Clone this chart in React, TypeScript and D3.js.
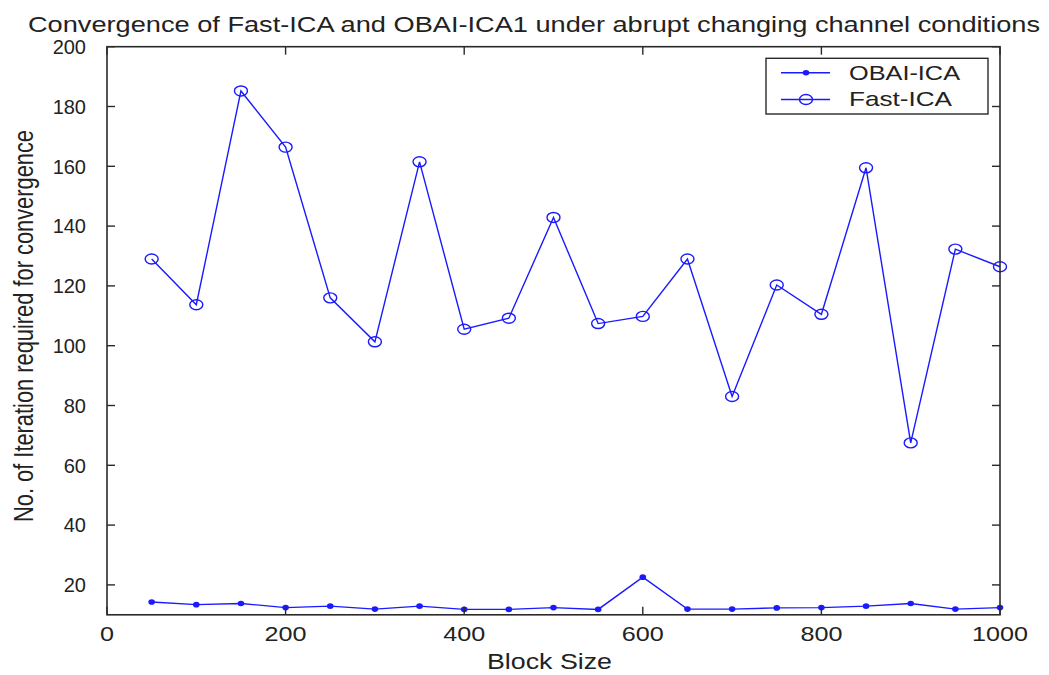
import React from "react";
import * as d3 from "d3";

// Block sizes on the x axis
const blockSizes = [50, 100, 150, 200, 250, 300, 350, 400, 450, 500, 550, 600, 650, 700, 750, 800, 850, 900, 950, 1000];

// Iterations needed before convergence
const obaiIca = [14.3, 13.4, 13.8, 12.4, 12.9, 11.9, 12.9, 11.8, 11.8, 12.4, 11.8, 22.6, 11.9, 11.9, 12.3, 12.4, 12.9, 13.8, 11.9, 12.4];
const fastIca = [129, 113.7, 185.2, 166.4, 116, 101.3, 161.5, 105.5, 109.2, 142.9, 107.4, 109.8, 129, 83, 120.3, 110.5, 159.5, 67.5, 132.3, 126.4];

const xTicks = [0, 200, 400, 600, 800, 1000];
const yTicks = [20, 40, 60, 80, 100, 120, 140, 160, 180, 200];

const seriesNames = ["OBAI-ICA", "Fast-ICA"];
const titleText = "Convergence of Fast-ICA and OBAI-ICA1 under abrupt changing channel conditions";
const xLabel = "Block Size";
const yLabel = "No. of Iteration required for convergence";

const W = 1049;
const H = 675;
const left = 107;
const right = 1000;
const top = 46.7;
const bottom = 614.8;
const blue = "#1a1aff";
const axisColor = "#2a2a2a";
const font = "'Liberation Sans', Arial, sans-serif";

export default function App() {
  const x = d3.scaleLinear().domain([0, 1000]).range([left, right]);
  const y = d3.scaleLinear().domain([10, 200]).range([bottom, top]);

  const line = d3
    .line<number>()
    .x((_, i) => x(blockSizes[i]))
    .y((d) => y(d));

  const tickLen = 8;

  return (
    <svg
      width={W}
      height={H}
      style={{ position: "absolute", left: 0, top: 0, background: "#fff" }}
      fontFamily={font}
    >
      <rect x={0} y={0} width={W} height={H} fill="#fff" />

      {/* title */}
      <text x={28} y={31.5} fontSize={22} fill="#222" textLength={1012} lengthAdjust="spacingAndGlyphs">
        {titleText}
      </text>

      {/* data series */}
      <path d={line(fastIca) || ""} fill="none" stroke={blue} strokeWidth={1.4} />
      <path d={line(obaiIca) || ""} fill="none" stroke={blue} strokeWidth={1.4} />
      {fastIca.map((v, i) => (
        <ellipse key={`f${i}`} cx={x(blockSizes[i])} cy={y(v)} rx={6.5} ry={5} fill="none" stroke={blue} strokeWidth={1.4} />
      ))}
      {obaiIca.map((v, i) => (
        <ellipse key={`o${i}`} cx={x(blockSizes[i])} cy={y(v)} rx={3.3} ry={2.8} fill={blue} stroke="none" />
      ))}

      {/* axes box */}
      <rect x={left} y={top} width={right - left} height={bottom - top} fill="none" stroke={axisColor} strokeWidth={1.6} />
      {xTicks.map((t) => (
        <g key={`xt${t}`}>
          <line x1={x(t)} x2={x(t)} y1={bottom} y2={bottom - tickLen} stroke={axisColor} strokeWidth={1.4} />
          <line x1={x(t)} x2={x(t)} y1={top} y2={top + tickLen} stroke={axisColor} strokeWidth={1.4} />
          <text
            x={x(t)}
            y={641}
            fontSize={21}
            textAnchor="middle"
            fill="#222"
            textLength={String(t).length * 14}
            lengthAdjust="spacingAndGlyphs"
          >
            {t}
          </text>
        </g>
      ))}
      {yTicks.map((t) => (
        <g key={`yt${t}`}>
          <line x1={left} x2={left + tickLen} y1={y(t)} y2={y(t)} stroke={axisColor} strokeWidth={1.4} />
          <line x1={right} x2={right - tickLen} y1={y(t)} y2={y(t)} stroke={axisColor} strokeWidth={1.4} />
          <text x={86} y={y(t) + 7.3} fontSize={20} textAnchor="end" fill="#222">
            {t}
          </text>
        </g>
      ))}

      {/* axis labels */}
      <text x={487} y={669} fontSize={22} fill="#222" textLength={125} lengthAdjust="spacingAndGlyphs">
        {xLabel}
      </text>
      <text
        transform={`translate(33, 522) rotate(-90)`}
        x={0}
        y={0}
        fontSize={27}
        fill="#222"
        textLength={392}
        lengthAdjust="spacingAndGlyphs"
      >
        {yLabel}
      </text>

      {/* legend */}
      <rect x={766} y={58.3} width={222} height={55.7} fill="#fff" stroke={axisColor} strokeWidth={1.4} />
      <line x1={781} x2={830} y1={72.7} y2={72.7} stroke={blue} strokeWidth={1.4} />
      <ellipse cx={806} cy={72.7} rx={3.3} ry={2.8} fill={blue} />
      <text x={849} y={80} fontSize={21} fill="#222" textLength={111} lengthAdjust="spacingAndGlyphs">
        {seriesNames[0]}
      </text>
      <line x1={781} x2={830} y1={99.5} y2={99.5} stroke={blue} strokeWidth={1.4} />
      <ellipse cx={806} cy={99.5} rx={6.5} ry={5} fill="none" stroke={blue} strokeWidth={1.4} />
      <text x={849} y={106} fontSize={21} fill="#222" textLength={103} lengthAdjust="spacingAndGlyphs">
        {seriesNames[1]}
      </text>
    </svg>
  );
}
